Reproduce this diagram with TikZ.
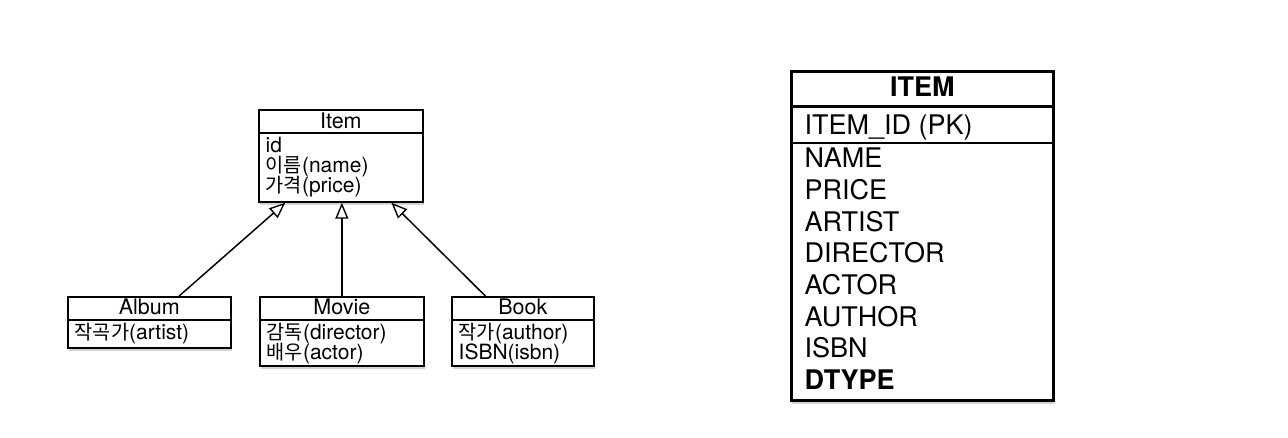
\documentclass[tikz,border=0pt]{standalone}
\usepackage{fontspec}
\setmainfont{TeX Gyre Heros}
\newfontfamily\kr[Scale=0.94]{Noto Sans CJK KR}
\usetikzlibrary{arrows.meta,calc,shadows}
\begin{document}
\begin{tikzpicture}[x=1pt,y=-1pt,
  cls/.style={draw, line width=1.7pt, fill=white, inner sep=0pt, anchor=north west,
    drop shadow={opacity=0.35,shadow xshift=1pt,shadow yshift=-3pt}},
  tbl/.style={draw, line width=2.6pt, fill=white, inner sep=0pt, anchor=north west,
    drop shadow={opacity=0.35,shadow xshift=1pt,shadow yshift=-3.5pt}},
  sep/.style={line width=1.7pt},
  tsep/.style={line width=2.6pt},
  hdr/.style={font=\fontsize{21.5}{24}\selectfont, anchor=base, inner sep=0pt},
  attr/.style={font=\fontsize{21}{24}\selectfont, anchor=base west, inner sep=0pt},
  thdr/.style={font=\fontsize{27}{32}\selectfont\bfseries, anchor=base, inner sep=0pt},
  tattr/.style={font=\fontsize{27}{32}\selectfont, anchor=base west, inner sep=0pt},
  inh/.style={-{Triangle[open,length=16pt,width=13pt,line width=1.4pt]}, line width=1.5pt}]
\useasboundingbox (0,0) rectangle (1288,438);

% ---- UML class Item
\node[cls, minimum width=164pt, minimum height=92pt] (item) at (258,109) {};
\draw[sep] ($(item.north west)+(0,24)$) -- ($(item.north east)+(0,24)$);
\node[hdr] (itemH) at ($(item.north)+(0,19.3)$) {Item};
\node[attr] (itemA1) at ($(item.north west)+(7.5,43.7)$) {id};
\node[attr] (itemA2) at ($(item.north west)+(7.5,63.7)$) {{\kr 이름}(name)};
\node[attr] (itemA3) at ($(item.north west)+(7.5,83.7)$) {{\kr 가격}(price)};

% ---- Album
\node[cls, minimum width=163pt, minimum height=51pt] (album) at (67,296) {};
\draw[sep] ($(album.north west)+(0,24)$) -- ($(album.north east)+(0,24)$);
\node[hdr] (albumH) at ($(album.north)+(0,19)$) {Album};
\node[attr] (albumA1) at ($(album.north west)+(7.5,43.7)$) {{\kr 작곡가}(artist)};

% ---- Movie
\node[cls, minimum width=164pt, minimum height=69pt] (movie) at (259,296) {};
\draw[sep] ($(movie.north west)+(0,24)$) -- ($(movie.north east)+(0,24)$);
\node[hdr] (movieH) at ($(movie.north)+(0,19)$) {Movie};
\node[attr] (movieA1) at ($(movie.north west)+(7.5,43.7)$) {{\kr 감독}(director)};
\node[attr] (movieA2) at ($(movie.north west)+(7.5,63.7)$) {{\kr 배우}(actor)};

% ---- Book
\node[cls, minimum width=142pt, minimum height=69pt] (book) at (451,296) {};
\draw[sep] ($(book.north west)+(0,24)$) -- ($(book.north east)+(0,24)$);
\node[hdr] (bookH) at ($(book.north)+(0,19)$) {Book};
\node[attr] (bookA1) at ($(book.north west)+(7.5,43.7)$) {{\kr 작가}(author)};
\node[attr] (bookA2) at ($(book.north west)+(7.5,63.7)$) {ISBN(isbn)};

% ---- inheritance arrows
\draw[inh] ($(album.north west)!0.681!(album.north east)$) -- ($(item.south west)!0.165!(item.south east)$);
\draw[inh] (movie.north) -- (movie.north |- item.south);
\draw[inh] ($(book.north west)!0.239!(book.north east)$) -- ($(item.south west)!0.805!(item.south east)$);

% ---- ITEM table
\node[tbl, minimum width=262pt, minimum height=329pt] (tab) at (790,70) {};
\draw[tsep] ($(tab.north west)+(0,36.5)$) -- ($(tab.north east)+(0,36.5)$);
\draw[tsep] ($(tab.north west)+(0,73)$) -- ($(tab.north east)+(0,73)$);
\node[thdr] (tabH) at ($(tab.north)+(0,26.4)$) {ITEM};
\node[tattr] (tabPK) at ($(tab.north west)+(14.5,64.7)$) {ITEM\_ID (PK)};
\node[tattr] (tabC1) at ($(tab.north west)+(14.5,97.7)$) {NAME};
\node[tattr] (tabC2) at ($(tab.north west)+(14.5,129.4)$) {PRICE};
\node[tattr] (tabC3) at ($(tab.north west)+(14.5,161.1)$) {ARTIST};
\node[tattr] (tabC4) at ($(tab.north west)+(14.5,192.8)$) {DIRECTOR};
\node[tattr] (tabC5) at ($(tab.north west)+(14.5,224.5)$) {ACTOR};
\node[tattr] (tabC6) at ($(tab.north west)+(14.5,256.2)$) {AUTHOR};
\node[tattr] (tabC7) at ($(tab.north west)+(14.5,287.9)$) {ISBN};
\node[tattr, font=\fontsize{27}{32}\selectfont\bfseries] (tabC8) at ($(tab.north west)+(14.5,319.6)$) {DTYPE};
\end{tikzpicture}
\end{document}
